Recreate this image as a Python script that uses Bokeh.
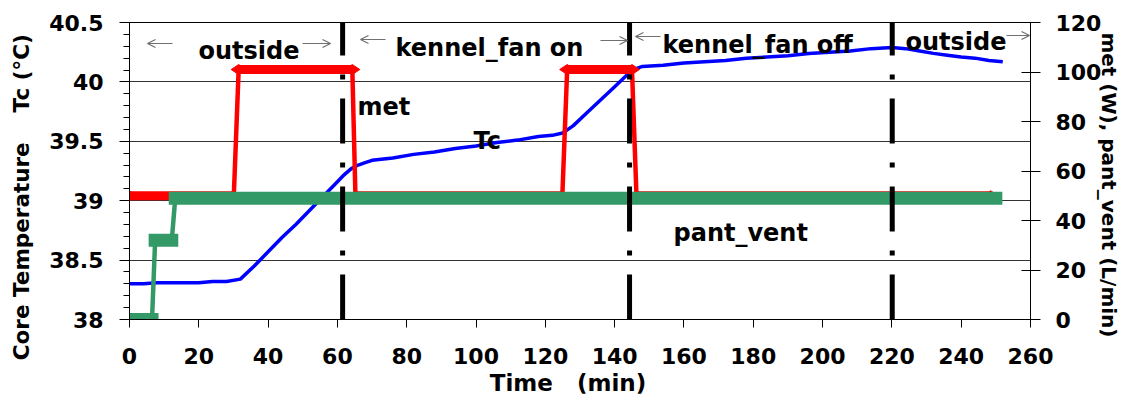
import math
from bokeh.plotting import figure
from bokeh.models import (Range1d, LinearAxis, FixedTicker, SingleIntervalTicker,
                          CustomJSTickFormatter, Label, Arrow, OpenHead)
from bokeh.embed import file_html
from bokeh.resources import INLINE

# ---------------- data ----------------
tc_time = [0, 4, 8, 12, 16, 20, 24, 28, 32, 36, 40, 44, 48, 52, 56, 60, 62, 64, 66, 68, 70,
           76, 82, 88, 94, 100, 106, 112, 118, 122, 125, 128, 132, 136, 140, 144, 146, 148,
           154, 160, 166, 172, 178, 184, 190, 196, 202, 208, 214, 220, 224, 228, 232, 236,
           240, 244, 248, 252]
tc_value = [38.30, 38.30, 38.31, 38.31, 38.31, 38.31, 38.32, 38.32, 38.34, 38.45, 38.57, 38.69,
            38.80, 38.92, 39.04, 39.16, 39.22, 39.27, 39.30, 39.32, 39.34,
            39.36, 39.39, 39.41, 39.44, 39.46, 39.49, 39.51, 39.54, 39.55, 39.57, 39.63, 39.74,
            39.85, 39.96, 40.07, 40.11, 40.13,
            40.14, 40.16, 40.17, 40.18, 40.20, 40.21, 40.22, 40.24, 40.25, 40.26, 40.28, 40.29,
            40.28, 40.26, 40.24, 40.225, 40.21, 40.20, 40.18, 40.17]

met_time = [0, 30.1, 31.5, 64.3, 65.2, 124.9, 126.3, 145.0, 146.3, 248.5]
met_value = [50, 50, 101, 101, 50, 50, 101, 101, 50, 50]

pv_time = [0, 6.5, 7.4, 12.2, 13.2, 250]
pv_value = [0, 0, 32, 32, 49, 49]

event_time = [61.5, 144.3, 220.1]

left_ticks = [38, 38.5, 39, 39.5, 40, 40.5]
left_tick_labels = ["38", "38.5", "39", "39.5", "40", "40.5"]
left_minor = [round(38 + 0.1 * i, 1) for i in range(26)]

phase_labels = ["outside", "kennel_fan on", "kennel_fan off", "outside"]
series_labels = ["met", "Tc", "pant_vent"]
x_title = "Time   (min)"
y_title = "Core Temperature    Tc (\u00b0C)"
y2_title = "met (W), pant_vent (L/min)"

X0, X1 = 0, 260
Y0, Y1 = 38, 40.5
R0, R1 = 0, 120

NB = "\u00a0"

# ---------------- figure ----------------
L, R, T, B = 129, 1030, 22, 319
W, H = 1130, 403

p = figure(width=W, height=H, x_range=Range1d(X0, X1), y_range=Range1d(Y0, Y1),
           output_backend="svg", toolbar_location=None,
           min_border_left=L, min_border_right=W - R, min_border_top=T,
           min_border_bottom=H - B, background_fill_color="white",
           border_fill_color="white", outline_line_color="black")
p.extra_y_ranges = {"right": Range1d(R0, R1)}

FONT = "DejaVu Sans"

def sx(px):
    return X0 + (px - L) * (X1 - X0) / (R - L)

def sy(py):
    return Y0 + (B - py) * (Y1 - Y0) / (B - T)

def style_axis(ax, size="22px", title_size="21px"):
    ax.axis_line_color = "black"
    ax.major_tick_line_color = "black"
    ax.minor_tick_line_color = "black"
    ax.major_label_text_font = FONT
    ax.major_label_text_font_style = "bold"
    ax.major_label_text_font_size = size
    ax.major_label_text_color = "black"
    ax.axis_label_text_font = FONT
    ax.axis_label_text_font_style = "bold"
    ax.axis_label_text_font_size = title_size
    ax.axis_label_text_color = "black"

# bottom axis
xa = p.xaxis[0]
xa.ticker = SingleIntervalTicker(interval=20, num_minor_ticks=0)
xa.major_tick_in = 0
xa.major_tick_out = 8
xa.major_label_standoff = 20
xa.axis_label = x_title.replace(" ", NB) + NB * 3
xa.axis_label_standoff = 3
style_axis(xa, title_size="23px")

# left axis
ya = p.yaxis[0]
ya.ticker = FixedTicker(ticks=left_ticks, minor_ticks=left_minor)
ya.formatter = CustomJSTickFormatter(args=dict(tvals=left_ticks, tlabels=left_tick_labels),
    code="const k = tvals.findIndex(t => Math.abs(t - tick) < 1e-6); return k >= 0 ? tlabels[k] : '';")
ya.major_tick_in = 0
ya.major_tick_out = 10
ya.minor_tick_in = 0
ya.minor_tick_out = 6
ya.major_label_standoff = 16
ya.axis_label = y_title.replace(" ", NB) + NB * 7
ya.axis_label_standoff = 12
style_axis(ya, title_size="21.5px")

# right axis
ra = LinearAxis(y_range_name="right", ticker=SingleIntervalTicker(interval=20, num_minor_ticks=0))
ra.major_tick_in = 9
ra.major_tick_out = 10
ra.minor_tick_in = 0
ra.minor_tick_out = 0
ra.major_label_standoff = 15
ra.axis_label = NB * 4 + y2_title.replace(" ", NB)
ra.axis_label_standoff = -7
style_axis(ra, title_size="20px")
p.add_layout(ra, "right")

p.xgrid.grid_line_color = None
p.ygrid.grid_line_color = "#333333"
p.ygrid.grid_line_width = 1

# ---------------- series ----------------
BLUE, RED, GREEN = "#0000FF", "#FF0000", "#339966"

p.line(tc_time, tc_value, line_color=BLUE, line_width=3.5)

def plateaus(t, v):
    x0, x1, y = [], [], []
    for i in range(len(t) - 1):
        if v[i] == v[i + 1]:
            x0.append(t[i]); x1.append(t[i + 1]); y.append(v[i])
    return x0, x1, y

# met
p.line(met_time, met_value, line_color=RED, line_width=4.5, y_range_name="right")
mx0, mx1, my = plateaus(met_time, met_value)
p.segment(mx0, my, mx1, my, line_color=RED, line_width=9, line_cap="butt", y_range_name="right")
p.scatter(mx0 + mx1, my + my, marker="diamond", size=15, angle=math.pi / 2,
          fill_color=RED, line_color=RED, y_range_name="right")

# pant_vent
p.line(pv_time, pv_value, line_color=GREEN, line_width=4.5, y_range_name="right")
gx0, gx1, gy = plateaus(pv_time, pv_value)
p.segment(gx0, gy, gx1, gy, line_color=GREEN, line_width=13, line_cap="square", y_range_name="right")

# event lines (dash-dot)
p.segment(event_time, [Y0] * len(event_time), event_time, [Y1] * len(event_time),
          line_color="black", line_width=5, line_dash="45 19 5 19", line_cap="butt")

# ---------------- annotations ----------------
def add_label(text, px, py, size="24px", align="left", baseline="alphabetic", angle=0.0):
    p.add_layout(Label(x=sx(px), y=sy(py), text=text, text_font=FONT, text_font_style="bold",
                       text_font_size=size, text_color="black", text_align=align,
                       text_baseline=baseline, angle=angle))

add_label(phase_labels[0], 198, 50)
add_label(phase_labels[1], 395, 47)
add_label(phase_labels[2], 662, 44)
add_label(phase_labels[3], 905, 41)

add_label(series_labels[0], 357, 106)
add_label(series_labels[1], 473, 140)
add_label(series_labels[2], 673, 232)

ARROW_C = "#707070"
for (xs, xe, yy) in [(172, 147, 43), (302, 330, 43), (385, 360, 39), (600, 627, 40),
                     (660, 635, 36), (1006, 1029, 35)]:
    p.add_layout(Arrow(end=OpenHead(size=8, line_color=ARROW_C, line_width=1.2),
                       x_start=sx(xs), y_start=sy(yy), x_end=sx(xe), y_end=sy(yy),
                       line_color=ARROW_C, line_width=1.2))

open("out.html", "w").write(file_html(p, INLINE))
